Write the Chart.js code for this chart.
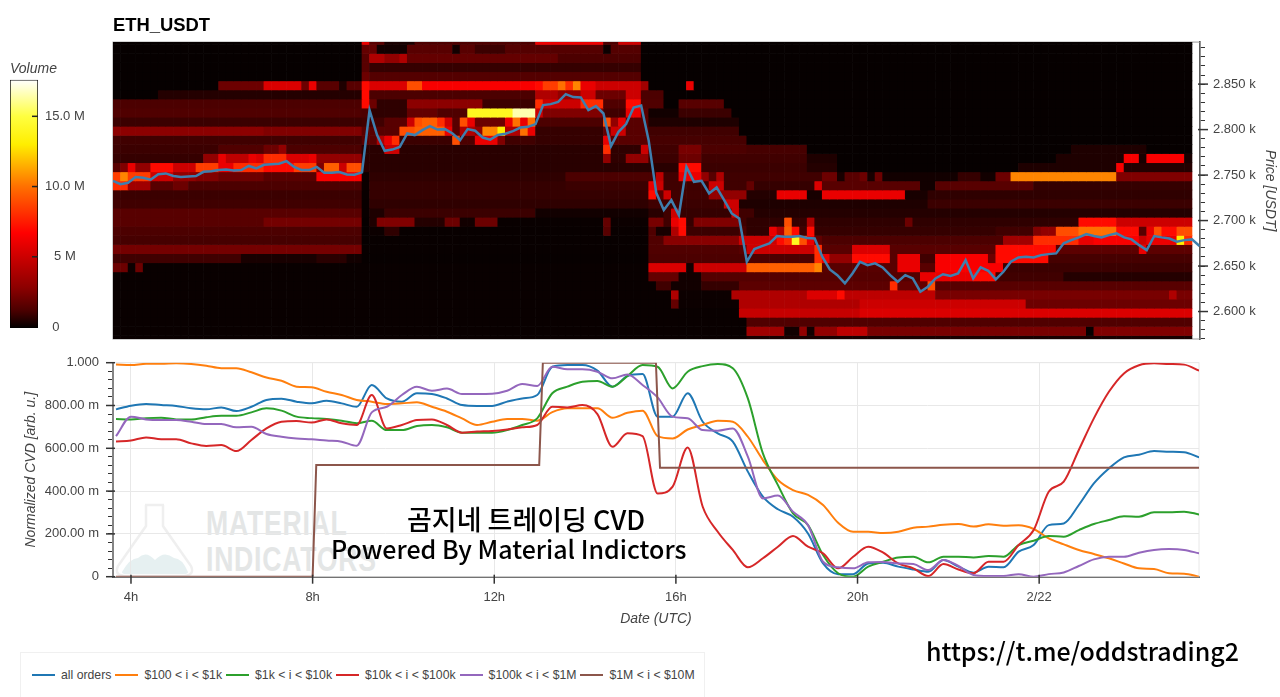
<!DOCTYPE html>
<html>
<head>
<meta charset="utf-8">
<title>ETH_USDT</title>
<script src="https://cdn.jsdelivr.net/npm/chart.js@4/dist/chart.umd.min.js"></script>
<style>
  html, body { margin: 0; padding: 0; background: #fff; overflow: hidden; }
  #page { position: relative; width: 1280px; height: 697px; font-family: "Liberation Sans", sans-serif; }
  canvas { position: absolute; display: block; }
  #heat-chart, #volume-bar { filter: blur(0.5px); }
  #cvd-chart { filter: blur(0.3px); }
  .note { position: absolute; white-space: nowrap; color: #000; font-family: "Noto Sans CJK KR", sans-serif; font-weight: 500; line-height: 30px; }
  .mark { position: absolute; white-space: nowrap; color: #e4e6e6; font-family: "Liberation Sans", sans-serif; font-weight: bold; font-size: 35px; line-height: 36px; letter-spacing: 1px; transform: scaleX(.76); transform-origin: left top; }
  #legend { position: absolute; left: 20px; top: 652px; width: 685px; height: 45px; border: 1px solid #f0f0f0; border-bottom: 0; box-sizing: border-box; display: flex; align-items: center; padding: 0 0 0 11px; font-size: 12.25px; color: #444; white-space: nowrap; }
  #legend i { display: inline-block; width: 23px; height: 2px; margin: 0 6px 0 0; }
  #legend span { margin-right: 4px; }
</style>
</head>
<body>
<div id="page">
  <svg style="position:absolute;left:114px;top:502px" width="82" height="76" viewBox="0 0 82 76">
    <path d="M8 70 Q16 56 24 56 Q32 48 41 58 Q50 48 60 56 Q68 56 74 70 Q74 72 70 72 L12 72 Q8 72 8 70 Z" fill="#e6f0f1"/>
    <path d="M31 3 L50 3 M32 3 L32 24 L4 64 Q0 73 10 74 L70 74 Q81 73 77 64 L49 24 L49 3" fill="none" stroke="#efefef" stroke-width="2.5"/>
  </svg>
  <div class="mark" style="left:206px;top:505px">MATERIAL</div>
  <div class="mark" style="left:206px;top:541px">INDICATORS</div>
  <canvas id="heat-chart" width="1280" height="340" style="left:0;top:0"></canvas>
  <canvas id="volume-bar" width="113" height="275" style="left:0;top:60px"></canvas>
  <canvas id="cvd-chart" width="1280" height="290" style="left:0;top:350px"></canvas>
  <div class="note" style="left:407px;top:504px;font-size:27px">곰지네 트레이딩 CVD</div>
  <div class="note" style="left:331px;top:533px;font-size:25px">Powered By Material Indictors</div>
  <div class="note" style="left:926px;top:635px;font-size:25px">https://t.me/oddstrading2</div>
  <div id="legend"></div>
</div>
<script>
// time axis, hours from 00:00 UTC (24 = 2/22)
const tickHours = [4, 8, 12, 16, 20, 24];
const startHour = 3.604;
const cellHours = 0.16615;
const columnCount = 143;

// top panel: price
const priceTicks = [2600, 2650, 2700, 2750, 2800, 2850];
const priceValues = [
  2743.7, 2740, 2741.5, 2747.8, 2747, 2745, 2751, 2751.8, 2749, 2748, 2748.5, 2748.9, 2753.6, 2754.3, 2755.5, 2756,
  2755, 2755.5, 2760, 2757.3, 2761.3, 2762, 2762.4, 2765.3, 2759, 2755.5, 2755.5, 2759, 2752.5, 2752.5, 2753.3, 2750.7,
  2750.3, 2753, 2821.4, 2794, 2776.7, 2778, 2781, 2795.7, 2794, 2799.4, 2803.8, 2800, 2800.5, 2795.7, 2788.4, 2800.5,
  2798.7, 2791.3, 2789, 2794, 2795.4, 2798.3, 2802.3, 2803, 2806, 2826.9, 2828, 2830.5, 2839, 2835.7, 2835.3, 2821.4,
  2825.8, 2817.7, 2781.8, 2797.6, 2806, 2824.3, 2826.5, 2787.7, 2730.5, 2711.5, 2722.5, 2706, 2759, 2742.6, 2743.7, 2729.8,
  2736.4, 2722.5, 2707.8, 2702.3, 2654.7, 2668.6, 2671.9, 2674.9, 2683, 2682.2, 2682.2, 2683, 2680.7, 2680.3, 2660.2, 2646.3,
  2640, 2630.9, 2641.9, 2654.7, 2651, 2653, 2648.5, 2640, 2632.7, 2640, 2636.4, 2621.8, 2627.3, 2636.4, 2641, 2639,
  2641.9, 2656.6, 2636.4, 2648.5, 2644.8, 2635.3, 2643.7, 2654.7, 2659.5, 2660.2, 2659.5, 2662, 2663.1, 2663.9, 2675, 2678.5,
  2681.5, 2685.1, 2683, 2681.5, 2684, 2685.9, 2681.5, 2679.3, 2673, 2667.5, 2683, 2681.5, 2680.3, 2676.7, 2678.5, 2679.3, 2672
];

// lower edge of each 10 USDT price bin, top row first
const priceBins = [
  2893.6, 2883.6, 2873.6, 2863.6, 2853.6, 2843.6, 2833.6, 2823.6, 2813.6, 2803.6, 2793.6, 2783.6, 2773.6, 2763.6, 2753.6, 2743.6, 2733.6,
  2723.6, 2713.6, 2703.6, 2693.6, 2683.6, 2673.6, 2663.6, 2653.6, 2643.6, 2633.6, 2623.6, 2613.6, 2603.6, 2593.6, 2583.6, 2573.6, 2563.6
];

// volume per bin in millions, as runs: last column of the run, volume, ...
const volumeRuns = [
  [33,0, 34,6, 36,1.5, 40,.3, 56,1.2, 65,6, 67,1.2, 70,5, 143,0],
  [33,0, 35,1.8, 39,.2, 45,1.5, 46,.2, 48,1.5, 52,.9, 65,1.4, 66,.1, 70,1.4, 143,0],
  [33,0, 34,1.5, 36,4, 38,3, 39,4, 59,1.8, 70,1.2, 143,0],
  [33,0, 34,1.5, 70,.8, 143,0],
  [33,0, 34,2, 70,1.4, 143,0],
  [14,0, 20,2, 25,5.5, 26,2, 27,6, 30,1.5, 31,.4, 33,1.5, 34,7, 39,5.5, 41,9, 56,6.5, 57,7, 59,8.5, 60,10, 61,8, 62,10.5, 64,6, 70,5, 71,3.5, 76,0, 77,6, 143,0],
  [6,0, 33,.5, 34,7, 56,1.2, 59,4, 62,3, 64,5, 68,2, 70,5, 73,1.2, 143,0],
  [33,1.2, 34,7, 35,2, 39,.7, 49,2.8, 56,.9, 57,8, 62,5, 65,8, 68,1.3, 70,7, 73,1.3, 75,0, 81,1.5, 143,0],
  [33,1.3, 34,1.2, 39,.7, 43,1.8, 47,1.3, 53,14, 56,16.5, 57,5, 65,2.5, 68,1, 70,6, 71,1.5, 75,.2, 82,.9, 143,0],
  [33,.9, 36,1, 39,1.5, 40,5, 41,9, 43,9.5, 44,8, 45,5, 46,1.5, 47,9, 48,6, 52,2, 53,6, 54,10, 55,6, 56,10, 65,1.2, 66,9, 67,3, 68,6, 71,1.5, 83,.4, 143,0],
  [20,2.8, 33,2.5, 38,1.5, 40,9, 44,9.5, 45,6, 46,1.5, 48,4, 49,3, 51,10.5, 52,13, 54,4, 55,10, 56,6, 65,.8, 66,1.8, 68,5, 71,1.5, 83,1, 143,0],
  [33,1, 35,1.5, 36,4, 37,6, 38,8, 45,.9, 46,9, 48,1.2, 51,6, 52,2.5, 56,1, 65,.8, 66,6, 71,1.5, 84,1.1, 143,0],
  [14,.9, 20,1.3, 22,2, 23,3, 33,1.2, 36,.6, 38,5, 65,.6, 66,8, 70,.7, 71,5, 75,1, 78,2.3, 84,1.2, 92,1.1, 127,0, 137,.4, 143,0],
  [12,.8, 14,3, 15,6, 18,4.5, 19,6, 20,5.5, 23,8, 26,5.5, 27,6, 33,3, 65,.6, 66,3, 68,.7, 71,3, 75,.9, 78,2, 92,1, 96,.4, 125,0, 134,.4, 136,6.5, 137,.3, 142,6.5, 143,.3],
  [1,1.5, 2,2.5, 3,6, 5,3, 8,7, 11,5, 14,8.5, 16,6, 20,8, 24,7, 27,8.5, 28,2.5, 30,9.5, 31,5, 33,9, 75,.6, 78,7, 92,.9, 96,.5, 120,0, 133,.4, 134,6.5, 143,.5],
  [1,8.5, 2,10.5, 5,8.5, 8,5, 11,3, 14,2.5, 20,2, 27,1.5, 33,6.5, 34,.1, 60,.7, 72,1.2, 73,4.5, 75,1, 78,6, 79,3, 80,1.5, 81,4, 94,1, 96,2, 97,.3, 99,1.5, 100,2, 101,.3, 102,2, 112,.2, 115,.8, 117,.2, 119,2, 133,10.5, 143,2.5],
  [2,8, 5,3.5, 8,1.5, 10,2, 33,1.2, 34,.1, 60,.8, 71,.9, 72,6, 73,5, 79,1, 81,5, 84,1, 85,1.8, 93,.8, 94,5.5, 107,1.5, 109,.2, 122,1.5, 143,.8],
  [33,.9, 34,.05, 71,.8, 72,7, 73,1.5, 74,5, 79,1, 84,3, 88,.5, 92,6, 94,.3, 105,6, 108,.3, 143,.7],
  [33,1, 34,.05, 71,.7, 75,1, 81,.9, 83,5, 108,.4, 143,.9],
  [33,1.5, 34,.05, 36,.4, 56,.9, 71,.2, 73,.6, 74,1, 75,5, 82,.8, 83,5, 85,1, 143,.5],
  [20,1.5, 33,2.2, 34,0, 35,.4, 40,2.5, 44,.5, 46,2, 48,.2, 51,2, 65,.05, 66,1.8, 71,.1, 73,2.3, 74,1, 75,6, 76,7, 77,.8, 83,2.5, 84,1, 89,.7, 90,9, 92,.8, 93,4, 105,.7, 106,2, 128,.7, 133,7, 143,5],
  [33,1.2, 34,0, 36,.1, 38,.7, 65,.03, 66,1.5, 71,.05, 72,1.3, 74,.3, 75,4, 76,7, 83,.9, 84,1.2, 87,.7, 88,6, 89,4, 90,9.5, 91,7, 92,1, 93,7, 117,.8, 122,1, 123,2.5, 125,3, 128,9, 133,10, 136,7, 137,1.5, 138,6, 139,9, 141,7, 143,9],
  [33,1.1, 34,0, 71,.03, 73,1.3, 83,2.7, 88,5, 89,7, 90,8, 91,14, 92,9, 93,6, 94,1.7, 118,1.2, 122,3.5, 128,8, 130,6, 136,6.5, 137,5, 141,6, 142,13, 143,8],
  [33,2.2, 71,.03, 83,1.3, 84,1.5, 93,5, 94,8, 98,1.5, 103,5.5, 117,1.5, 125,7, 136,1.6, 137,6, 143,1.6],
  [17,1, 27,.3, 31,.6, 33,.2, 71,.02, 93,1.2, 94,8, 95,6, 98,3, 103,7, 104,1.5, 107,6, 109,1, 116,6.5, 117,2, 124,7, 143,1.1],
  [2,2, 3,.1, 4,2, 71,.05, 76,5.5, 77,.2, 84,5, 93,9.5, 94,10.5, 104,1.5, 107,6, 109,1.5, 118,6.5, 143,.9],
  [71,.05, 75,1.8, 78,.2, 107,1.4, 114,6, 117,7, 126,1, 143,.5],
  [72,.05, 74,1, 78,.2, 83,.8, 103,1.6, 104,8, 108,1.8, 109,9, 143,1.5],
  [74,.05, 75,4, 82,.1, 92,4, 96,5.5, 97,7, 109,4.5, 140,2.3, 141,4, 143,2.3],
  [74,.05, 75,1.8, 83,.1, 99,4, 121,5, 143,2],
  [83,.05, 99,4.8, 143,5.5],
  [84,.05, 143,1.3],
  [84,.05, 89,3.5, 91,.2, 92,3, 93,.2, 96,3, 100,4.5, 129,2.3, 130,0, 143,2.5],
  [84,.05, 143,.3]
];

// colour bar
const volumeTicks = [0, 5, 10, 15];
const volumeMax = 17.6;
const volumeColors = [
  [0, '#060000'], [0.3, '#180000'], [1.2, '#4c0000'], [2.8, '#8c0000'], [5, '#cc0000'], [6.7, '#ff0000'],
  [10, '#ff7000'], [13, '#ffee00'], [15, '#ffff40'], [17.6, '#ffffff']
];

// lower panel: normalized CVD, one sample every 20 minutes
const cvdTicks = [0, 0.2, 0.4, 0.6, 0.8, 1];
const allOrders = [
  .782, .799, .807, .802, .798, .787, .782, .791, .774, .794, .826, .832, .818, .81, .822, .81, .794, .896, .833, .818, .857, .854, .833, .802, .798,
  .798, .818, .833, .849, .981, .989, .989, .963, .888, .938, .947, .748, .748, .857, .724, .67, .631, .491, .374, .315, .28, .202, .062, .012, .012,
  .062, .065, .047, .034, .023, .078, .047, .019, .047, .044, .117, .148, .241, .249, .335, .436, .506, .558, .57, .587, .584, .581, .558
];
const orders100to1k = [
  .992, .989, .995, .995, .997, .994, .986, .974, .974, .955, .931, .916, .888, .885, .864, .849, .826, .818, .807, .81, .815, .794, .771, .74, .709,
  .724, .737, .737, .729, .769, .787, .787, .787, .743, .766, .776, .657, .646, .688, .709, .729, .724, .654, .545, .452, .405, .382, .335, .252, .21,
  .21, .204, .21, .229, .234, .243, .246, .234, .245, .238, .24, .223, .179, .151, .125, .106, .086, .062, .039, .036, .016, .014, 0
];
const orders1kto10k = [
  .737, .735, .741, .743, .735, .734, .745, .752, .752, .768, .787, .776, .748, .741, .737, .729, .717, .729, .685, .685, .704, .709, .698, .673, .673,
  .673, .685, .709, .74, .857, .888, .911, .914, .888, .938, .989, .981, .88, .958, .984, .994, .974, .833, .576, .428, .296, .241, .101, .016, 0,
  .047, .07, .09, .093, .067, .093, .093, .09, .097, .093, .148, .168, .19, .187, .218, .246, .265, .283, .28, .301, .301, .304, .291
];
const orders10kto100k = [
  .632, .636, .651, .642, .642, .623, .611, .615, .587, .639, .693, .724, .727, .72, .735, .717, .709, .849, .693, .709, .732, .735, .709, .673, .678,
  .681, .688, .698, .709, .794, .791, .802, .76, .607, .67, .657, .389, .421, .604, .327, .21, .125, .044, .086, .14, .19, .14, .109, .039, .093,
  .14, .112, .062, .039, .003, .059, .034, .016, .07, .07, .148, .218, .397, .444, .592, .74, .864, .95, .988, .997, .994, .991, .963
];
const orders100kto1m = [
  .657, .748, .735, .732, .732, .724, .713, .713, .698, .701, .667, .654, .646, .642, .636, .631, .612, .768, .794, .849, .888, .869, .879, .854, .854,
  .855, .869, .9, .891, .981, .969, .969, .958, .927, .945, .896, .838, .748, .74, .685, .682, .693, .561, .366, .379, .304, .241, .07, .044, .039,
  .067, .069, .062, .059, .031, .078, .05, .008, .003, .003, .012, 0, .012, .02, .05, .081, .093, .093, .112, .125, .129, .125, .109
];
const orders1mto10mHours = [3.67, 8, 8.08, 12.99, 13.07, 15.56, 15.65, 27.52];
const orders1mto10m = [0, 0, .522, .522, 1, 1, .509, .509];

const cvdFirstHour = 3.67;
const cvdStepHours = 0.3313;
const cvdLabels = ['all orders', '$100 < i < $1k', '$1k < i < $10k', '$10k < i < $100k', '$100k < i < $1M', '$1M < i < $10M'];
const cvdColors = ['#1f77b4', '#ff7f0e', '#2ca02c', '#d62728', '#9467bd', '#8c564b'];

const textColor = '#444';
const axisFont = { family: '"Liberation Sans", sans-serif', size: 13 };
const titleFont = { family: '"Liberation Sans", sans-serif', size: 14, style: 'italic', weight: 'normal' };

function hexToRgb(hex) {
  return [1, 3, 5].map(i => parseInt(hex.slice(i, i + 2), 16));
}

function volumeColor(v) {
  for (let i = 1; i < volumeColors.length; i++) {
    const [v1, c1] = volumeColors[i];
    if (v <= v1) {
      const [v0, c0] = volumeColors[i - 1];
      const t = (v - v0) / (v1 - v0);
      const a = hexToRgb(c0), b = hexToRgb(c1);
      return `rgb(${a.map((x, j) => Math.round(x + (b[j] - x) * t)).join(',')})`;
    }
  }
  return '#fff';
}

function expandRuns(runs) {
  const cells = [];
  for (let i = 0; i < runs.length; i += 2) {
    while (cells.length < runs[i]) cells.push(runs[i + 1]);
  }
  return cells;
}

function hourLabel(v) {
  return v === 24 ? '2/22' : v + 'h';
}

function cvdLabel(v) {
  if (v === 0) return '0';
  if (v === 1) return '1.000';
  return (v * 1000).toFixed(2) + ' m';
}

// keep the plot area where the axis sizes put it, labels may overhang
function fixAxisHeight(size) {
  return s => { s.height = size; s.paddingLeft = 0; s.paddingRight = 0; };
}
function fixAxisWidth(size) {
  return s => { s.width = size; s.paddingTop = 0; s.paddingBottom = 0; };
}

// longer marks for the labelled ticks, drawn on the axis scales
const majorTicks = {
  id: 'majorTicks',
  afterDraw(chart, args, opts) {
    const ctx = chart.ctx;
    ctx.save();
    ctx.strokeStyle = opts.color;
    ctx.lineWidth = 1.5;
    opts.marks.forEach(m => {
      const scale = chart.scales[m.scale];
      m.values.forEach(v => {
        const p = scale.getPixelForValue(v);
        ctx.beginPath();
        if (scale.isHorizontal()) {
          ctx.moveTo(p, chart.chartArea.bottom + m.from);
          ctx.lineTo(p, chart.chartArea.bottom + m.to);
        } else {
          const edge = scale.position === 'right' ? chart.chartArea.right : chart.chartArea.left;
          ctx.moveTo(edge + m.from, p);
          ctx.lineTo(edge + m.to, p);
        }
        ctx.stroke();
      });
    });
    ctx.restore();
  },
};

const plotFrame = {
  id: 'plotFrame',
  beforeDatasetsDraw(chart, args, opts) {
    const { left, top, width, height } = chart.chartArea;
    chart.ctx.save();
    chart.ctx.strokeStyle = opts.color;
    chart.ctx.lineWidth = 1;
    chart.ctx.strokeRect(left, top, width, height);
    chart.ctx.restore();
  },
};

// heat map rows as floating bars, price line on top
const columnHours = expandRuns([columnCount, 0]).map((_, c) => startHour + (c + 0.5) * cellHours);
const heatDatasets = volumeRuns.map((runs, r) => {
  const cells = expandRuns(runs);
  return {
    type: 'bar',
    order: 1,
    data: columnHours.map(h => ({ x: h, y: [priceBins[r], priceBins[r] + 10] })),
    backgroundColor: cells.map(volumeColor),
    borderWidth: 0,
    grouped: false,
    barPercentage: 1,
    categoryPercentage: 1,
  };
});

const priceTickValues = [];
for (let p = 2570; p <= 2890; p += 10) priceTickValues.push(p);

new Chart(document.getElementById('heat-chart'), {
  type: 'bar',
  plugins: [majorTicks, plotFrame],
  data: {
    datasets: [
      {
        type: 'line',
        order: 0,
        data: priceValues.map((p, i) => ({ x: startHour + i * cellHours, y: p })),
        borderColor: '#3f7fae',
        borderWidth: 2.5,
        pointRadius: 0,
        tension: 0,
      },
      ...heatDatasets,
    ],
  },
  options: {
    responsive: false,
    animation: false,
    events: [],
    layout: { padding: { left: 113, bottom: 1 } },
    plugins: {
      legend: { display: false },
      tooltip: { enabled: false },
      title: {
        display: true,
        text: 'ETH_USDT',
        align: 'start',
        fullSize: false,
        color: '#000',
        font: { family: '"Liberation Sans", sans-serif', size: 18.4, weight: 'bold' },
        padding: { top: 14.5, bottom: 5.5 },
      },
      majorTicks: { color: '#333', marks: [{ scale: 'y', values: priceTicks, from: -2, to: 8 }] },
      plotFrame: { color: '#999' },
    },
    scales: {
      x: { type: 'linear', display: false, offset: false, min: startHour, max: 27.54 },
      y: {
        type: 'linear',
        position: 'right',
        min: 2569.8,
        max: 2896.2,
        afterBuildTicks: s => { s.ticks = priceTickValues.map(value => ({ value })); },
        afterFit: fixAxisWidth(80),
        grid: { drawOnChartArea: false, tickColor: '#333', tickLength: 5 },
        border: { color: '#222', width: 1.5 },
        ticks: {
          autoSkip: false,
          padding: 8,
          color: textColor,
          font: axisFont,
          callback: v => (priceTicks.includes(v) ? (v / 1000).toFixed(3) + ' k' : ''),
        },
        title: { display: true, text: 'Price [USDT]', color: textColor, font: titleFont, padding: { top: 2, bottom: 0 } },
      },
    },
  },
});

// colour bar: one gradient bar on the volume scale
new Chart(document.getElementById('volume-bar'), {
  type: 'bar',
  plugins: [majorTicks],
  data: {
    labels: ['Volume'],
    datasets: [{
      data: [[-0.07, volumeMax]],
      borderColor: '#000',
      borderWidth: 1,
      borderSkipped: false,
      barPercentage: 1,
      categoryPercentage: 1,
      backgroundColor: c => {
        const area = c.chart.chartArea;
        if (!area) return '#000';
        const y = c.chart.scales.y;
        const g = c.chart.ctx.createLinearGradient(0, y.getPixelForValue(0), 0, y.getPixelForValue(volumeMax));
        volumeColors.forEach(([v, col]) => g.addColorStop(v / volumeMax, col));
        return g;
      },
    }],
  },
  options: {
    responsive: false,
    animation: false,
    events: [],
    layout: { padding: { left: 10, bottom: 7 } },
    plugins: {
      legend: { display: false },
      tooltip: { enabled: false },
      title: {
        display: true,
        text: 'Volume',
        align: 'start',
        color: textColor,
        font: titleFont,
        padding: { top: 1, bottom: 2 },
      },
      majorTicks: { color: '#222', marks: [{ scale: 'y', values: volumeTicks.slice(1), from: -6, to: 0 }] },
    },
    scales: {
      x: { display: false },
      y: {
        position: 'right',
        min: -0.07,
        max: volumeMax,
        afterBuildTicks: s => { s.ticks = volumeTicks.map(value => ({ value })); },
        afterFit: fixAxisWidth(75),
        grid: { display: false, drawTicks: false },
        border: { display: false },
        ticks: {
          padding: 7,
          crossAlign: 'center',
          color: textColor,
          font: axisFont,
          callback: v => (v === 0 ? '0     ' : v === 5 ? '5 M' : v.toFixed(1) + ' M'),
        },
      },
    },
  },
});

// lower panel
const cvdSeries = [allOrders, orders100to1k, orders1kto10k, orders10kto100k, orders100kto1m];
const cvdDatasets = cvdSeries.map((values, s) => ({
  label: cvdLabels[s],
  order: cvdLabels.length - s,
  data: values.map((v, i) => ({ x: cvdFirstHour + i * cvdStepHours, y: v })),
  borderColor: cvdColors[s],
  borderWidth: 2,
  pointRadius: 0,
  cubicInterpolationMode: 'monotone',
}));
cvdDatasets.push({
  label: cvdLabels[5],
  order: 0,
  data: orders1mto10m.map((v, i) => ({ x: orders1mto10mHours[i], y: v })),
  borderColor: cvdColors[5],
  borderWidth: 2,
  pointRadius: 0,
  tension: 0,
});

const cvdTickValues = [];
for (let i = 0; i <= 25; i++) cvdTickValues.push(i / 25);

new Chart(document.getElementById('cvd-chart'), {
  type: 'line',
  plugins: [plotFrame, majorTicks],
  data: { datasets: cvdDatasets },
  options: {
    responsive: false,
    animation: false,
    events: [],
    layout: { padding: { top: 12.7, right: 81 } },
    plugins: {
      legend: { display: false },
      tooltip: { enabled: false },
      plotFrame: { color: '#e8e8e8' },
      majorTicks: {
        color: '#333',
        marks: [
          { scale: 'y', values: cvdTicks, from: -7, to: 2 },
          { scale: 'x', values: tickHours, from: -2, to: 7 },
        ],
      },
    },
    scales: {
      x: {
        type: 'linear',
        min: startHour,
        max: 27.52,
        afterBuildTicks: s => { s.ticks = tickHours.map(value => ({ value })); },
        afterFit: fixAxisHeight(63.3),
        grid: { color: '#e8e8e8', tickLength: 5, tickColor: 'transparent' },
        border: { color: '#555', width: 2 },
        ticks: { maxRotation: 0, padding: 7.5, color: textColor, font: axisFont, callback: hourLabel },
        title: { display: true, text: 'Date (UTC)', color: textColor, font: titleFont, padding: { top: 0, bottom: 12.6 } },
      },
      y: {
        min: 0,
        max: 1,
        afterBuildTicks: s => { s.ticks = cvdTickValues.map(value => ({ value })); },
        afterFit: fixAxisWidth(113),
        grid: {
          tickLength: 5,
          tickColor: '#333',
          color: c => (c.index % 5 === 0 ? '#e8e8e8' : 'transparent'),
        },
        border: { color: '#222', width: 2 },
        ticks: {
          autoSkip: false,
          padding: 9,
          color: textColor,
          font: axisFont,
          callback: (v, i) => (i % 5 === 0 ? cvdLabel(cvdTicks[i / 5]) : ''),
        },
        title: { display: true, text: 'Normalized CVD [arb. u.]', color: textColor, font: titleFont, padding: { top: 22.6, bottom: 0 } },
      },
    },
  },
});

// legend box under the plot
const legend = document.getElementById('legend');
cvdLabels.forEach((label, s) => {
  const swatch = document.createElement('i');
  swatch.style.background = cvdColors[s];
  const text = document.createElement('span');
  text.textContent = label;
  legend.append(swatch, text);
});
</script>
</body>
</html>
